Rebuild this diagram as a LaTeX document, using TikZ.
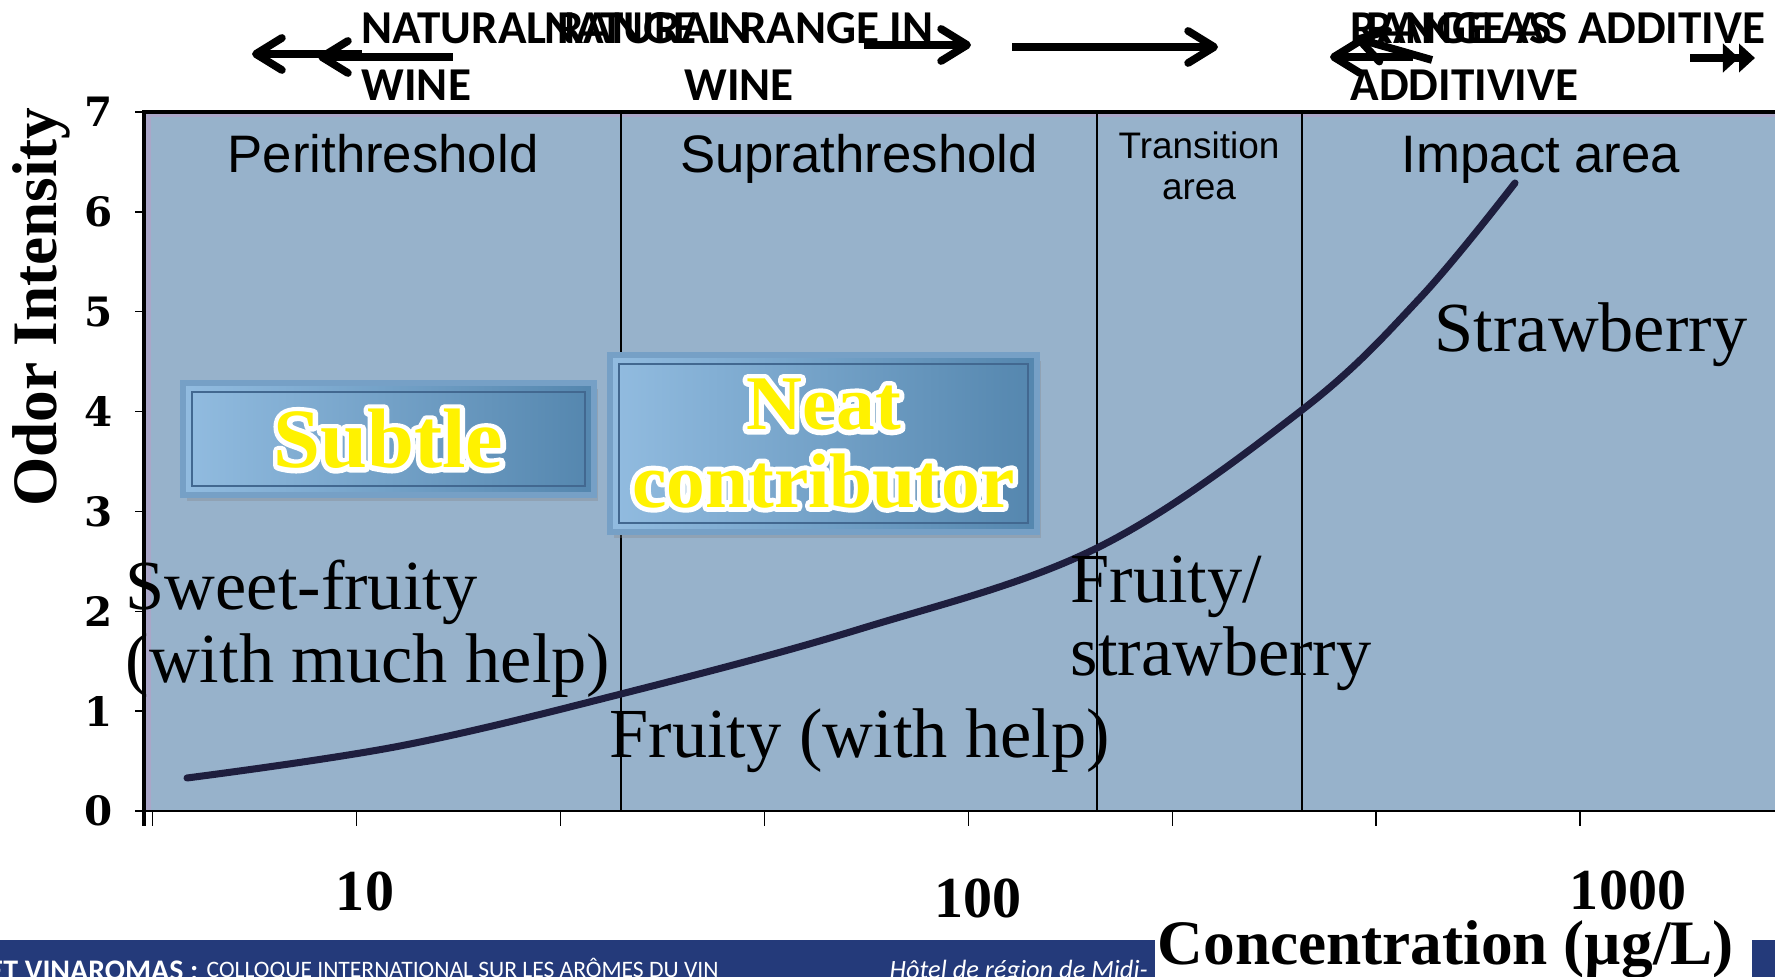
\documentclass[tikz,border=0pt]{standalone}
\usepackage{fontspec}
\setmainfont{Liberation Serif}
\newfontfamily\hdrfont{Carlito}
\newfontfamily\arialfont{Liberation Sans}
\newfontfamily\tickfont{DejaVu Serif}
\usetikzlibrary{arrows.meta,shadows}

\definecolor{plotblue}{RGB}{151,178,203}
\definecolor{wall}{RGB}{170,166,200}
\definecolor{curvecol}{RGB}{30,30,62}
\definecolor{footblue}{RGB}{36,58,122}
\definecolor{boxlight}{RGB}{146,188,224}
\definecolor{boxdark}{RGB}{84,134,174}
\definecolor{boxedge}{RGB}{118,160,198}
\definecolor{boxline}{RGB}{66,104,144}

% white stroked copy below, yellow copy on top
\newcommand{\glow}[1]{\rlap{\special{pdf:literal direct 1 1 1 rg 1 1 1 RG 2 Tr 2.8 w 1 j}#1\special{pdf:literal direct 0 Tr}}\textcolor{yellow}{#1}}

\tikzset{
  banner/.style={font=\hdrfont\bfseries\fontsize{13.4}{16.3}\selectfont, inner sep=0pt},
  barb/.style={line width=2.2pt, -{Straight Barb[round,length=2.6mm,width=3.2mm]}},
  twin/.style={line width=2.4pt, -{Triangle[length=1.6mm,width=2.8mm]Triangle[length=1.6mm,width=2.8mm]}},
  zone/.style={font=\arialfont\fontsize{15}{17}\selectfont, inner sep=0pt},
  note/.style={font=\fontsize{20}{20.8}\selectfont, inner sep=0pt, align=left},
  tag/.style={draw=boxedge, line width=1.6pt, left color=boxlight, right color=boxdark,
    drop shadow={shadow xshift=0.4mm, shadow yshift=-0.6mm, opacity=0.3},
    font=\bfseries\fontsize{22}{22}\selectfont, align=center,
    path picture={\draw[boxline, line width=0.6pt]
      ([shift={(2.5pt,2.5pt)}]path picture bounding box.south west) rectangle
      ([shift={(-2.5pt,-2.5pt)}]path picture bounding box.north east);}},
  ylab/.style={font=\tickfont\bfseries\fontsize{11.5}{11.5}\selectfont, inner sep=0pt},
  xlab/.style={font=\bfseries\fontsize{16.5}{16.5}\selectfont, inner sep=0pt},
  divider/.style={black, line width=0.5pt},
  curve/.style={curvecol, line width=2pt, line cap=round},
  footer/.style={white, inner sep=0pt, font=\hdrfont}
}

\begin{document}
\begin{tikzpicture}[x=0.01cm, y=-0.01cm]
  \useasboundingbox (0,0) rectangle (1775,977);
  \clip (0,0) rectangle (1775,977);
  \fill[white] (0,0) rectangle (1775,977);

  % plot area
  \fill[plotblue] (144,112) rectangle (1775,811);
  \fill[wall] (144,112) rectangle (151,811);
  \fill[wall] (144,112) rectangle (1775,117);
  \foreach \x in {621,1097,1302}
    \draw[divider] (\x,112) -- (\x,811);
  \draw[line width=1pt] (144,826) -- (144,112) -- (1775,112);
  \draw[line width=0.6pt] (144,811) -- (1775,811);
  \foreach \k in {0,...,7} {
    \draw[line width=0.4pt] (135,{811-99.86*\k}) -- (144,{811-99.86*\k});
    \node[ylab] (y\k) at (99,{811-99.86*\k}) {\k};
    \draw[line width=0.4pt] ({152.7+203.9*\k},811) -- ++(0,15);
  }
  \node[xlab] (x10) at (365,891) {10};
  \node[xlab] (x100) at (978,898) {100};
  \node[xlab] (x1000) at (1628,890) {1000};
  \node[rotate=90, anchor=base, inner sep=0pt, font=\bfseries\fontsize{18}{18}\selectfont] (ytitle) at (56,307) {Odor Intensity};

  \node[zone, anchor=base] (peri) at (383,173) {Perithreshold};
  \node[zone, anchor=base] (supra) at (859,173) {Suprathreshold};
  \node[zone, anchor=base, align=center, font=\arialfont\fontsize{10.5}{11.8}\selectfont] (trans) at (1199,200) {Transition\\area};
  \node[zone, anchor=base] (impact) at (1541,173) {Impact area};

  \draw[curve] plot[smooth, tension=0.6] coordinates {(187,778) (400,746) (621,694) (860,629) (1097,548) (1302,410) (1420,298) (1515,183)};

  \node[tag, minimum width=4.11cm, minimum height=1.12cm] (subtle) at (388.5,439) {\fontsize{24}{24}\selectfont\glow{Subtle}};
  \node[tag, minimum width=4.27cm, minimum height=1.77cm] (neat) at (823.5,443.5) {\glow{Neat}\\\glow{contributor}};

  \node[note, anchor=base west] (sweet) at (125,683) {Sweet-fruity\\(with much help)};
  \node[note, anchor=base west] (help) at (609,758) {Fruity (with help)};
  \node[note, anchor=base west] (fruity) at (1070,676) {Fruity/\\strawberry};
  \node[note, anchor=base west] (straw) at (1434,352) {Strawberry};

  % header ranges
  \node[banner, anchor=base west, align=left] (rangeA) at (361,101) {NATURAL RANGE IN\\WINE};
  \node[banner, anchor=base, align=center] (rangeB) at (739,101) {NATURAL RANGE IN\\WINE};
  \node[banner, anchor=base west, align=left] (addC) at (1350,101) {RANGE AS\\ADDITIVIVE};
  \node[banner, anchor=base west] (addD) at (1366,44) {RANGE AS ADDITIVE};

  \coordinate (a1s) at (362,54);  \coordinate (a1e) at (252,54);
  \coordinate (a2s) at (453,57);  \coordinate (a2e) at (318,57);
  \coordinate (a3s) at (864,45);  \coordinate (a3e) at (971,45);
  \coordinate (a4s) at (1012,47); \coordinate (a4e) at (1218,47);
  \coordinate (a5s) at (1413,57); \coordinate (a5e) at (1330,57);
  \coordinate (a6s) at (1432,60); \coordinate (a6e) at (1355,38);
  \coordinate (a7s) at (1690,58); \coordinate (a7e) at (1755,58);
  \draw[barb] (a1s) -- (a1e);
  \draw[barb] (a2s) -- (a2e);
  \draw[barb] (a3s) -- (a3e);
  \draw[barb] (a4s) -- (a4e);
  \draw[barb] (a5s) -- (a5e);
  \draw[barb] (a6s) -- (a6e);
  \draw[twin] (a7s) -- (a7e);

  % footer
  \fill[footblue] (0,940) rectangle (1775,977);
  \node[footer, anchor=base west, font=\hdrfont\bfseries\fontsize{8.5}{8.5}\selectfont] (org) at (-12,981) {ET VINAROMAS :};
  \node[footer, anchor=base west, font=\hdrfont\fontsize{6.7}{6.7}\selectfont] (event) at (206,978) {COLLOQUE INTERNATIONAL SUR LES ARÔMES DU VIN};
  \node[footer, anchor=base west, font=\hdrfont\itshape\fontsize{7.5}{7.5}\selectfont] (venue) at (889,979) {Hôtel de région de Midi-};
  \fill[white] (1155,925) rectangle (1752,977);
  \node[anchor=base west, inner sep=0pt, font=\bfseries\fontsize{18}{18}\selectfont] (xtitle) at (1157,965) {Concentration (µg/L)};
\end{tikzpicture}
\end{document}
